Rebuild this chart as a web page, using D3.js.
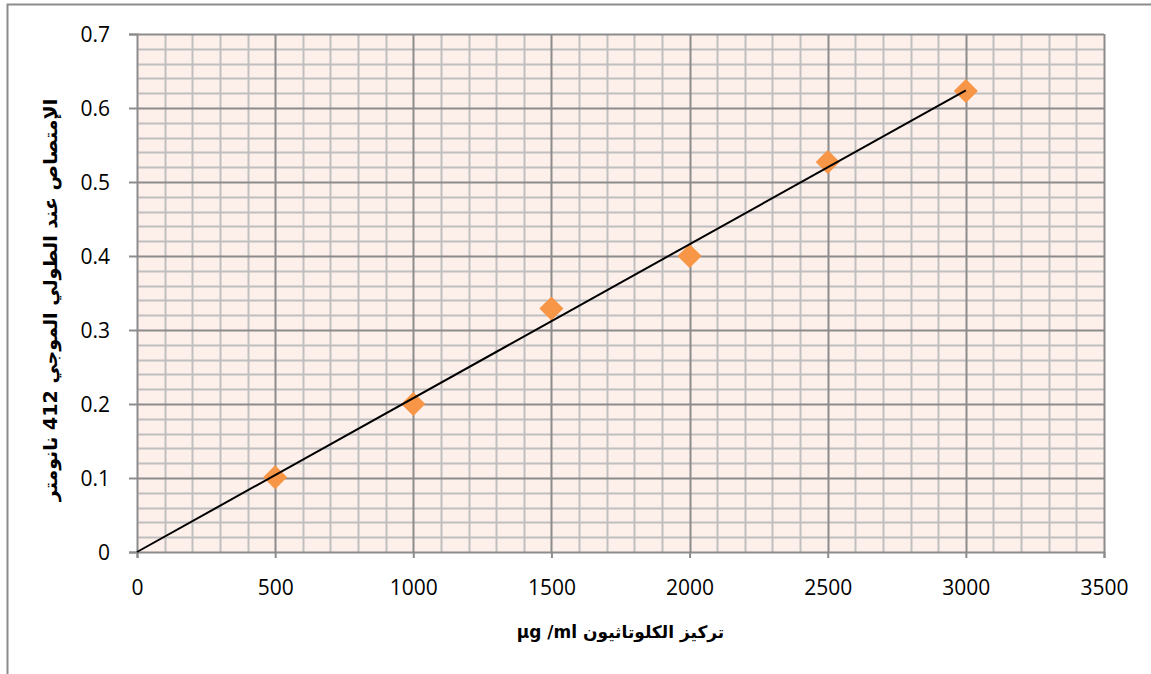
<!DOCTYPE html>
<html>
<head>
<meta charset="utf-8">
<script src="https://cdn.jsdelivr.net/npm/d3@7"></script>
<style>
  body { margin: 0; background: #fff; }
  svg { display: block; }
</style>
</head>
<body>
<div id="chart"></div>
<script>
// concentration (µg/ml) vs absorbance at 412 nm
const concentration = [500, 1000, 1500, 2000, 2500, 3000];
const absorbance = [0.101, 0.2, 0.329, 0.4, 0.527, 0.623];
const xTicks = [0, 500, 1000, 1500, 2000, 2500, 3000, 3500];
const yTicks = [0, 0.1, 0.2, 0.3, 0.4, 0.5, 0.6, 0.7];

const width = 1151, height = 674;
const margin = { left: 137, right: 47, top: 34, bottom: 122 };

const svg = d3.select("#chart").append("svg")
  .attr("width", width)
  .attr("height", height);

// outer chart border
svg.append("rect")
  .attr("x", 7.5).attr("y", 4.5)
  .attr("width", width + 10).attr("height", height + 10)
  .attr("fill", "none")
  .attr("stroke", "#8c8c8c")
  .attr("stroke-width", 2);

const x = d3.scaleLinear().domain([0, 3500]).range([margin.left, width - margin.right]);
const y = d3.scaleLinear().domain([0, 0.7]).range([height - margin.bottom, margin.top]);

// plot background
svg.append("rect")
  .attr("x", x(0)).attr("y", y(0.7))
  .attr("width", x(3500) - x(0))
  .attr("height", y(0) - y(0.7))
  .attr("fill", "#fdefea");

// minor grid
const minorX = d3.range(100, 3500, 100).filter(d => d % 500 !== 0);
const minorY = d3.range(1, 35).map(d => d * 0.02).filter((d, i) => (i + 1) % 5 !== 0);

svg.append("g").selectAll("line")
  .data(minorX).join("line")
  .attr("x1", d => Math.round(x(d)) + 0.5).attr("x2", d => Math.round(x(d)) + 0.5)
  .attr("y1", y(0)).attr("y2", y(0.7))
  .attr("stroke", "#bfbfbf").attr("stroke-width", 2);

svg.append("g").selectAll("line")
  .data(minorY).join("line")
  .attr("x1", x(0)).attr("x2", x(3500))
  .attr("y1", d => Math.round(y(d)) + 0.5).attr("y2", d => Math.round(y(d)) + 0.5)
  .attr("stroke", "#bfbfbf").attr("stroke-width", 2);

// major grid
svg.append("g").selectAll("line")
  .data(xTicks.slice(1)).join("line")
  .attr("x1", d => Math.round(x(d)) + 0.5).attr("x2", d => Math.round(x(d)) + 0.5)
  .attr("y1", y(0)).attr("y2", y(0.7))
  .attr("stroke", "#8c8c8c").attr("stroke-width", 2);

svg.append("g").selectAll("line")
  .data(yTicks.slice(1)).join("line")
  .attr("x1", x(0)).attr("x2", x(3500))
  .attr("y1", d => Math.round(y(d)) + 0.5).attr("y2", d => Math.round(y(d)) + 0.5)
  .attr("stroke", "#8c8c8c").attr("stroke-width", 2);

// axes
const xAxis = svg.append("g")
  .attr("transform", `translate(0,${y(0)})`)
  .call(d3.axisBottom(x).tickValues(xTicks).tickSize(6).tickPadding(22).tickFormat(d3.format("d")));

const yAxis = svg.append("g")
  .attr("transform", `translate(${x(0)},0)`)
  .call(d3.axisLeft(y).tickValues(yTicks).tickSize(8).tickPadding(19).tickFormat(d => d === 0 ? "0" : d3.format(".1f")(d)));

[xAxis, yAxis].forEach(g => {
  g.select(".domain").attr("stroke", "#8c8c8c").attr("stroke-width", 2);
  g.selectAll(".tick line").attr("stroke", "#8c8c8c").attr("stroke-width", 2);
  g.selectAll(".tick text")
    .attr("fill", "#000")
    .attr("font-family", "'Open Sans', sans-serif")
    .attr("font-size", "21px");
});
xAxis.selectAll(".tick text").attr("dy", "0.71em");
yAxis.selectAll(".tick text").attr("dy", "0.36em");

// data markers
const diamond = d3.symbol().type(d3.symbolDiamond2).size(370);
svg.append("g").selectAll("path")
  .data(concentration).join("path")
  .attr("transform", (d, i) => `translate(${x(d)},${y(absorbance[i])})`)
  .attr("d", diamond)
  .attr("fill", "#f79646");

// linear trendline through origin
const slope = d3.sum(concentration, (d, i) => d * absorbance[i]) / d3.sum(concentration, d => d * d);
svg.append("line")
  .attr("x1", x(0)).attr("y1", y(0))
  .attr("x2", x(3000)).attr("y2", y(slope * 3000))
  .attr("stroke", "#000")
  .attr("stroke-width", 2);

// axis titles
svg.append("text")
  .attr("x", (x(0) + x(3500)) / 2)
  .attr("y", 638)
  .attr("text-anchor", "middle")
  .attr("font-family", "'DejaVu Sans', sans-serif")
  .attr("font-weight", "bold")
  .attr("font-size", "17px")
  .attr("direction", "ltr")
  .text("µg /ml  تركيز الكلوتاثيون");

svg.append("text")
  .attr("transform", `translate(57,${(y(0) + y(0.7)) / 2 + 7}) rotate(-90)`)
  .attr("text-anchor", "middle")
  .attr("font-family", "'DejaVu Sans', sans-serif")
  .attr("font-weight", "bold")
  .attr("font-size", "19px")
  .attr("direction", "rtl")
  .text("الإمتصاص عند الطولي الموجي 412 نانومتر");
</script>
</body>
</html>
